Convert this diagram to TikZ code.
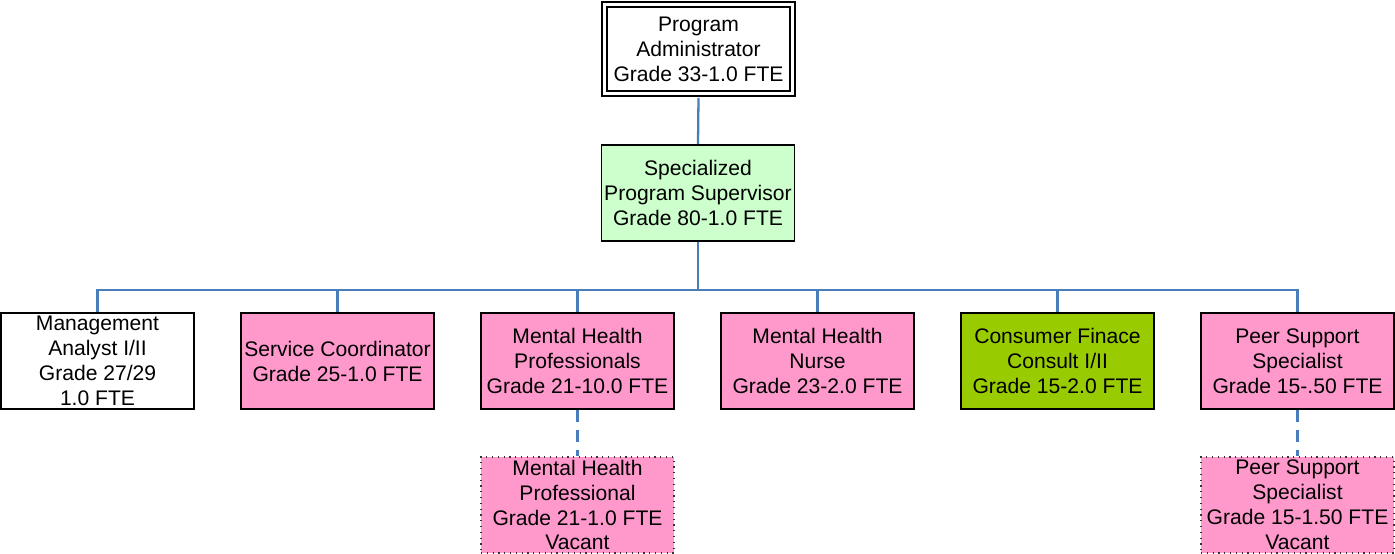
\documentclass[tikz,border=0pt]{standalone}
\usepackage{fontspec}
\setmainfont{Liberation Sans}
\usetikzlibrary{calc}

\definecolor{postpink}{HTML}{FF99CC}
\definecolor{postmint}{HTML}{CCFFCC}
\definecolor{postlime}{HTML}{99CC00}
\definecolor{linkblue}{HTML}{4A7EBB}

\tikzset{
  post/.style={draw=black, line width=1.1pt, minimum width=3.86cm, minimum height=1.92cm,
    inner sep=0pt, align=center, font=\fontsize{12}{14.2}\selectfont},
  vacant/.style={post, fill=postpink, draw=black!80, line width=0.7pt, dash pattern=on 0.7pt off 2.6pt},
  link/.style={draw=linkblue, line width=1.3pt},
  gap/.style={link, dash pattern=on 6.8pt off 4.5pt}
}

\begin{document}
\begin{tikzpicture}

\useasboundingbox (0,0) rectangle (27.9,-11.08);

% top of the chart
\node[post, double, double distance=1.8pt, minimum width=3.76cm, minimum height=1.78cm] (admin) at (13.97,-0.98)
  {Program\\Administrator\\Grade 33-1.0 FTE};
\node[post, fill=postmint] (super) at (13.96,-3.86)
  {Specialized\\Program Supervisor\\Grade 80-1.0 FTE};

% staff row
\node[post] (analyst) at (1.95,-7.22) {Management\\Analyst I/II\\Grade 27/29\\1.0 FTE};
\node[post, fill=postpink] (coord) at (6.75,-7.22) {Service Coordinator\\Grade 25-1.0 FTE};
\node[post, fill=postpink] (mhp) at (11.55,-7.22) {Mental Health\\Professionals\\Grade 21-10.0 FTE};
\node[post, fill=postpink] (nurse) at (16.35,-7.22) {Mental Health\\Nurse\\Grade 23-2.0 FTE};
\node[post, fill=postlime] (finance) at (21.15,-7.22) {Consumer Finace\\Consult I/II\\Grade 15-2.0 FTE};
\node[post, fill=postpink] (peer) at (25.95,-7.22) {Peer Support\\Specialist\\Grade 15-.50 FTE};

% vacancies
\node[vacant] (mhpvac) at (11.55,-10.10) {Mental Health\\Professional\\Grade 21-1.0 FTE\\Vacant};
\node[vacant] (peervac) at (25.95,-10.10) {Peer Support\\Specialist\\Grade 15-1.50 FTE\\Vacant};

\draw[link] (admin.south) ++(0,-0.07) -- (super.north);
\foreach \n in {analyst, coord, mhp, nurse, finance, peer}
  \draw[link] (super.south) -- ++(0,-0.96) -| (\n.north);
\draw[gap] (mhp.south) -- (mhpvac.north);
\draw[gap] (peer.south) -- (peervac.north);

\end{tikzpicture}
\end{document}
